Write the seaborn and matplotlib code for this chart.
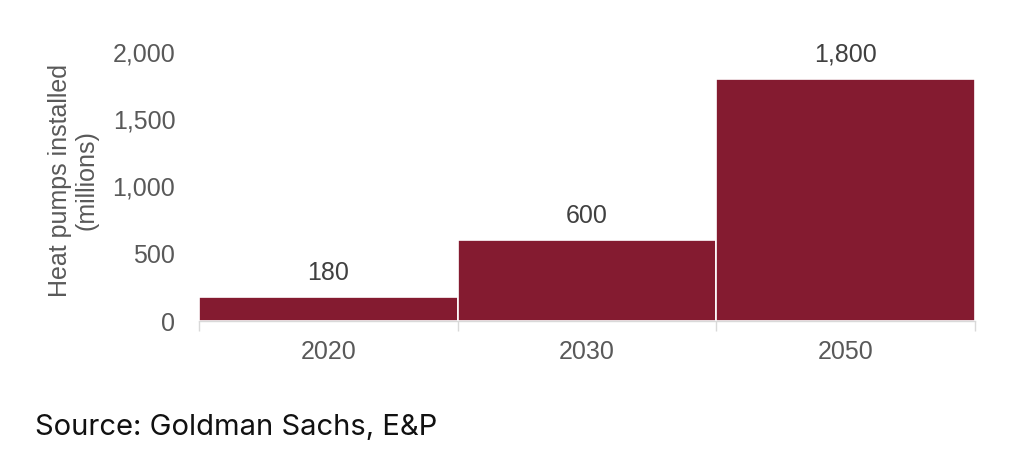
import matplotlib
matplotlib.use('Agg')
import matplotlib.pyplot as plt
import pandas as pd
import seaborn as sns
from matplotlib.ticker import FuncFormatter, FixedLocator

years = ['2020', '2030', '2050']
installed = [180, 600, 1800]
y_ticks = [0, 500, 1000, 1500, 2000]

df = pd.DataFrame({'year': years, 'installed': installed})

sns.set_style('white')
plt.rcParams['font.family'] = ['Liberation Sans', 'DejaVu Sans']

fig = plt.figure(figsize=(10.24, 4.67), dpi=100)
ax = fig.add_axes([0.1943, 0.3126, 0.7578, 0.5761])

sns.barplot(data=df, x='year', y='installed', color='#841B30', width=1,
            edgecolor='white', linewidth=1.2, saturation=1, ax=ax)

for i, v in enumerate(installed):
    ax.text(i, v + 90, f'{v:,}', ha='center', va='bottom', fontsize=18, color='#404040')

ax.set_xlim(-0.5, 2.5)
ax.set_ylim(0, 2000)
ax.set_yticks(y_ticks)
ax.yaxis.set_major_formatter(FuncFormatter(lambda v, p: f'{int(v):,}'))
ax.tick_params(axis='y', length=0, pad=17, labelsize=18, labelcolor='#595959')
ax.tick_params(axis='x', which='major', length=0, pad=14, labelsize=18, labelcolor='#595959')
ax.xaxis.set_minor_locator(FixedLocator([-0.5, 0.5, 1.5, 2.5]))
ax.tick_params(axis='x', which='minor', length=7, width=1, color='#d9d9d9', bottom=True)

ax.set_xlabel('')
ax.set_ylabel('Heat pumps installed\n(millions)', fontsize=18, color='#595959',
              linespacing=1.1)
ax.yaxis.set_label_coords(-0.13, 0.524)

for s in ['top', 'right', 'left']:
    ax.spines[s].set_visible(False)
ax.spines['bottom'].set_color('#d9d9d9')
ax.spines['bottom'].set_linewidth(1)

fig.text(0.034, 0.068, 'Source: Goldman Sachs, E&P', fontsize=21, color='#111111',
         family=['Inter', 'DejaVu Sans'])

fig.savefig('out.png', dpi=100, facecolor='white')
plt.close(fig)
